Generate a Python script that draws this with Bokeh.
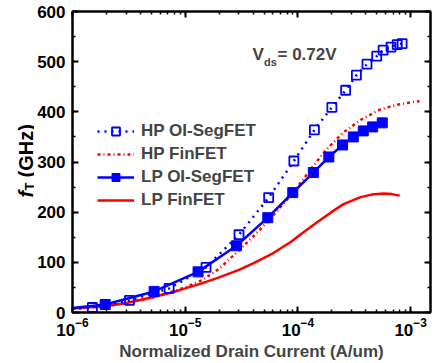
import numpy as np
from bokeh.plotting import figure
from bokeh.layouts import row
from bokeh.models import (LogAxis, LinearAxis, SingleIntervalTicker, LogTicker,
                          Label, Legend, LegendItem, Range1d)
from bokeh.embed import file_html
from bokeh.resources import INLINE

# ---------------- data ----------------
# HP OI-SegFET (open squares, dotted blue)
hp_oi_x = [1.5e-6, 3.2e-6, 7.2e-6, 1.53e-5, 3.0e-5, 5.5e-5, 9.2e-5, 1.4e-4, 2.0e-4,
           2.65e-4, 3.3e-4, 4.1e-4, 5.0e-4, 5.7e-4, 6.7e-4, 7.6e-4, 8.4e-4]
hp_oi_y = [10, 24, 48, 90, 155, 229, 302, 364, 409, 443, 473, 495, 511, 523, 529, 534, 536]
hp_oi_start_x = [1.0e-6]
hp_oi_start_y = [7]

# LP OI-SegFET (filled squares, solid blue)
lp_oi_x = [1.95e-6, 5.3e-6, 1.3e-5, 2.85e-5, 5.4e-5, 9.0e-5, 1.37e-4, 1.88e-4,
           2.49e-4, 3.1e-4, 3.8e-4, 4.6e-4, 5.6e-4]
lp_oi_y = [16, 42, 81, 133, 189, 239, 279, 310, 334, 350, 362, 370, 378]
lp_oi_start_x = [1.0e-6]
lp_oi_start_y = [9]

# HP FinFET (dotted red)
hp_fin_x = [1.0e-6, 2.0e-6, 3.0e-6, 5.0e-6, 7.0e-6, 1.0e-5, 1.4e-5, 2.0e-5, 3.0e-5,
            4.2e-5, 5.8e-5, 8.0e-5, 1.0e-4, 1.37e-4, 1.77e-4, 2.5e-4, 3.6e-4, 5.4e-4,
            7.5e-4, 1.0e-3, 1.2e-3]
hp_fin_y = [8, 13, 18, 29, 39, 50, 64, 87, 124, 156, 189, 225, 252, 292, 324, 358, 384,
            405, 414, 419, 421]

# LP FinFET (solid red)
lp_fin_x = [1.0e-6, 2.0e-6, 3.0e-6, 5.0e-6, 7.6e-6, 1.0e-5, 1.4e-5, 2.0e-5, 3.0e-5,
            4.0e-5, 6.0e-5, 8.7e-5, 1.06e-4, 1.5e-4, 1.95e-4, 2.54e-4, 3.6e-4, 4.5e-4,
            5.75e-4, 6.8e-4, 8.0e-4]
lp_fin_y = [8, 13, 19, 30, 40, 48, 58, 70, 85, 98, 118, 141, 156, 181, 199, 216, 230,
            235, 237, 236, 233]

series_names = ["HP OI-SegFET", "HP FinFET", "LP OI-SegFET", "LP FinFET"]
x_label = "Normalized Drain Current (A/um)"
vds_text = ["V", "ds", "= 0.72V"]
ylab_parts = ["f", "T", "(GHz)"]

BLUE = "#0000FF"
RED = "#FF0000"
FONT = "Liberation Sans"
W_LEFT = 34
H = 363

p = figure(width=438 - W_LEFT, height=H, x_axis_type="log",
           x_range=Range1d(1e-6, 1.5e-3), y_range=Range1d(0, 600),
           output_backend="svg", toolbar_location=None,
           min_border_left=70 - W_LEFT, min_border_right=8, min_border_top=11,
           min_border_bottom=50)
p.grid.visible = False
p.outline_line_color = "black"
p.outline_line_width = 2
p.background_fill_color = "white"
p.border_fill_color = "white"

# curves
r_lpf = p.line(lp_fin_x, lp_fin_y, line_color=RED, line_width=2.5)
r_hpf = p.line(hp_fin_x, hp_fin_y, line_color=RED, line_width=2.5, line_dash="3 3 1 3")
r_hpl = p.line(hp_oi_start_x + hp_oi_x, hp_oi_start_y + hp_oi_y, line_color=BLUE,
               line_width=2.5, line_dash="2 5")
r_lpl = p.line(lp_oi_start_x + lp_oi_x, lp_oi_start_y + lp_oi_y, line_color=BLUE, line_width=2.5)
r_hps = p.scatter(hp_oi_x, hp_oi_y, marker="square", size=9, line_color=BLUE,
                  line_width=1.8, fill_alpha=0)
r_lps = p.scatter(lp_oi_x, lp_oi_y, marker="square", size=10, line_color=BLUE, fill_color=BLUE)
# legend-only markers
r_hpf_m = p.scatter(x=[], y=[], marker="inverted_triangle", size=6, color=RED)
r_lpf_m = p.scatter(x=[], y=[], marker="square", size=4, color=RED)

# axes styling
def style(ax, show_labels=True):
    ax.axis_line_width = 2
    ax.axis_line_color = "black"
    ax.major_tick_in = 6
    ax.major_tick_out = 0
    ax.minor_tick_in = 3
    ax.minor_tick_out = 0
    ax.major_tick_line_width = 2
    ax.minor_tick_line_width = 1.5
    ax.major_label_text_font = FONT
    ax.major_label_text_font_style = "bold"
    ax.major_label_text_color = "black"
    ax.major_label_text_font_size = "17px"
    if not show_labels:
        ax.major_label_text_alpha = 0
        ax.major_label_text_font_size = "2px"
        ax.major_label_standoff = 0

xa = p.xaxis[0]
style(xa)
xa.major_label_standoff = 5
xa.axis_label = x_label
xa.axis_label_text_font = FONT
xa.axis_label_text_font_style = "bold"
xa.axis_label_text_font_size = "17px"
xa.axis_label_standoff = 3
xa.ticker = LogTicker(num_minor_ticks=10)

ya = p.yaxis[0]
style(ya)
ya.major_label_standoff = 7
ya.ticker = SingleIntervalTicker(interval=100, num_minor_ticks=2)

top = LogAxis(ticker=LogTicker(num_minor_ticks=10))
style(top, False)
p.add_layout(top, "above")
right = LinearAxis(ticker=SingleIntervalTicker(interval=100, num_minor_ticks=2))
style(right, False)
p.add_layout(right, "right")

# Vds annotation
p.add_layout(Label(x=180, y=258, x_units="screen", y_units="screen", text=vds_text[0],
                   text_font=FONT, text_font_style="bold", text_font_size="17px",
                   text_baseline="alphabetic"))
p.add_layout(Label(x=191.5, y=251, x_units="screen", y_units="screen", text=vds_text[1],
                   text_font=FONT, text_font_style="bold", text_font_size="11px",
                   text_baseline="alphabetic"))
p.add_layout(Label(x=205, y=258, x_units="screen", y_units="screen", text=vds_text[2],
                   text_font=FONT, text_font_style="bold", text_font_size="17px",
                   text_baseline="alphabetic"))

legend = Legend(items=[
    LegendItem(label=series_names[0], renderers=[r_hpl, r_hps]),
    LegendItem(label=series_names[1], renderers=[r_hpf, r_hpf_m]),
    LegendItem(label=series_names[2], renderers=[r_lpl, r_lps]),
    LegendItem(label=series_names[3], renderers=[r_lpf, r_lpf_m]),
], location=(25, 102), padding=0, margin=0, spacing=3, glyph_height=20, label_height=20,
   glyph_width=37, label_standoff=7, border_line_alpha=0, background_fill_alpha=0,
   label_text_font=FONT, label_text_font_style="bold", label_text_font_size="17px")
p.add_layout(legend, "center")

# narrow side figure carrying the rotated y-axis title (frame = whole figure)
q = figure(frame_width=W_LEFT, frame_height=H, x_range=Range1d(0, W_LEFT),
           y_range=Range1d(0, H), output_backend="svg", toolbar_location=None,
           x_axis_location=None, y_axis_location=None,
           min_border=0, min_border_left=0, min_border_right=0,
           min_border_top=0, min_border_bottom=0)
q.title.visible = False
q.grid.visible = False
q.outline_line_color = None
q.background_fill_color = "white"
q.border_fill_color = "white"

lab_kw = dict(angle=np.pi / 2, text_font=FONT, text_baseline="alphabetic",
              text_align="left", text_color="black")
q.add_layout(Label(x=25, y=177, text=ylab_parts[0], text_font_style="bold italic",
                   text_font_size="20px", **lab_kw))
q.add_layout(Label(x=29, y=184, text=ylab_parts[1], text_font_style="bold",
                   text_font_size="13px", **lab_kw))
q.add_layout(Label(x=25, y=197, text=ylab_parts[2], text_font_style="bold",
                   text_font_size="20px", **lab_kw))

layout = row(q, p, spacing=0)
open("out.html", "w").write(file_html(layout, INLINE))
